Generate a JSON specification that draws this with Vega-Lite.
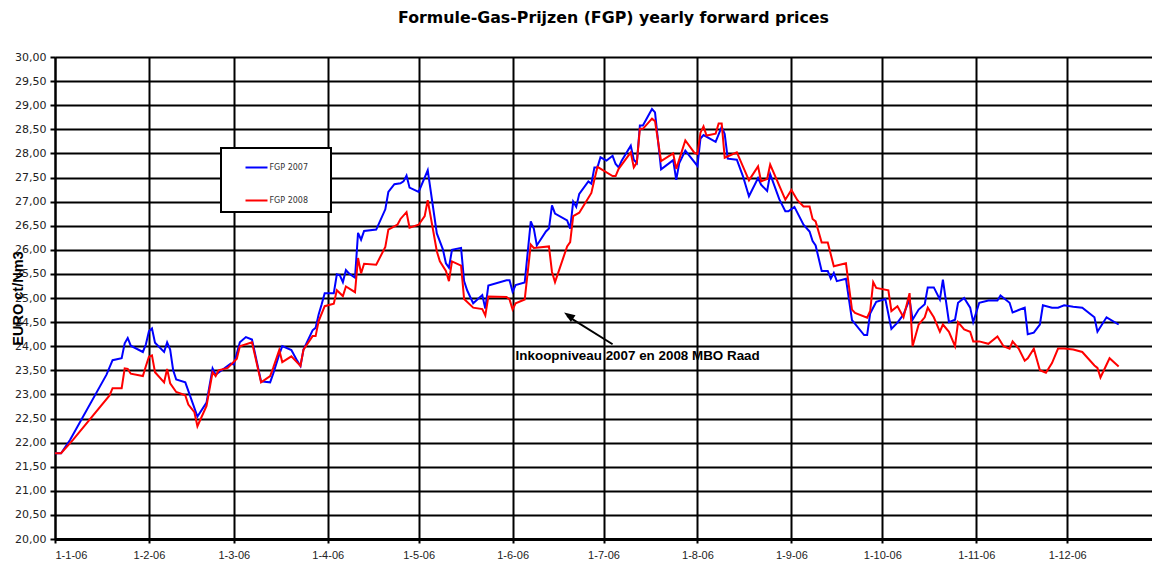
{
  "$schema": "https://vega.github.io/schema/vega-lite/v6.json",
  "width": 1097,
  "height": 482,
  "autosize": {"type": "none"},
  "padding": {"left": 55, "top": 57, "right": 0, "bottom": 23},
  "background": "white",
  "title": {"text": "Formule-Gas-Prijzen (FGP) yearly forward prices", "font": "DejaVu Sans", "fontSize": 15.8, "fontWeight": "bold", "color": "black", "anchor": "middle", "offset": 24, "dx": 10},
  "config": {
    "view": {"stroke": null},
    "axis": {"gridColor": "black", "gridWidth": 2, "gridOpacity": 1, "domainColor": "black", "tickColor": "black", "labelColor": "#222"}
  },
  "layer": [
    {
      "data": {"values": [
        {"d":"2006-01-01","s":"FGP 2007","v":21.78},{"d":"2006-01-03","s":"FGP 2007","v":21.78},{"d":"2006-01-06","s":"FGP 2007","v":22.06},{"d":"2006-01-18","s":"FGP 2007","v":23.41},{"d":"2006-01-20","s":"FGP 2007","v":23.71},{"d":"2006-01-23","s":"FGP 2007","v":23.75},{"d":"2006-01-24","s":"FGP 2007","v":24.06},{"d":"2006-01-25","s":"FGP 2007","v":24.17},{"d":"2006-01-26","s":"FGP 2007","v":24.01},{"d":"2006-01-30","s":"FGP 2007","v":23.88},{"d":"2006-01-31","s":"FGP 2007","v":24.04},
        {"d":"2006-02-01","s":"FGP 2007","v":24.31},{"d":"2006-02-02","s":"FGP 2007","v":24.37},{"d":"2006-02-03","s":"FGP 2007","v":24.07},{"d":"2006-02-06","s":"FGP 2007","v":23.88},{"d":"2006-02-07","s":"FGP 2007","v":24.08},{"d":"2006-02-08","s":"FGP 2007","v":23.93},{"d":"2006-02-09","s":"FGP 2007","v":23.50},{"d":"2006-02-10","s":"FGP 2007","v":23.31},{"d":"2006-02-13","s":"FGP 2007","v":23.25},{"d":"2006-02-17","s":"FGP 2007","v":22.54},{"d":"2006-02-20","s":"FGP 2007","v":22.83},{"d":"2006-02-22","s":"FGP 2007","v":23.54},{"d":"2006-02-23","s":"FGP 2007","v":23.41},{"d":"2006-02-25","s":"FGP 2007","v":23.50},{"d":"2006-02-28","s":"FGP 2007","v":23.64},
        {"d":"2006-03-01","s":"FGP 2007","v":23.62},{"d":"2006-03-03","s":"FGP 2007","v":24.08},{"d":"2006-03-05","s":"FGP 2007","v":24.19},{"d":"2006-03-07","s":"FGP 2007","v":24.14},{"d":"2006-03-10","s":"FGP 2007","v":23.27},{"d":"2006-03-13","s":"FGP 2007","v":23.25},{"d":"2006-03-14","s":"FGP 2007","v":23.43},{"d":"2006-03-16","s":"FGP 2007","v":23.83},{"d":"2006-03-17","s":"FGP 2007","v":24.00},{"d":"2006-03-20","s":"FGP 2007","v":23.92},{"d":"2006-03-22","s":"FGP 2007","v":23.69},{"d":"2006-03-23","s":"FGP 2007","v":23.59},{"d":"2006-03-24","s":"FGP 2007","v":23.93},{"d":"2006-03-27","s":"FGP 2007","v":24.33},{"d":"2006-03-28","s":"FGP 2007","v":24.38},{"d":"2006-03-29","s":"FGP 2007","v":24.66},{"d":"2006-03-30","s":"FGP 2007","v":24.87},{"d":"2006-03-31","s":"FGP 2007","v":25.10},
        {"d":"2006-04-03","s":"FGP 2007","v":25.10},{"d":"2006-04-04","s":"FGP 2007","v":25.49},{"d":"2006-04-05","s":"FGP 2007","v":25.47},{"d":"2006-04-06","s":"FGP 2007","v":25.33},{"d":"2006-04-07","s":"FGP 2007","v":25.58},{"d":"2006-04-08","s":"FGP 2007","v":25.51},{"d":"2006-04-10","s":"FGP 2007","v":25.42},{"d":"2006-04-11","s":"FGP 2007","v":26.35},{"d":"2006-04-12","s":"FGP 2007","v":26.21},{"d":"2006-04-13","s":"FGP 2007","v":26.39},{"d":"2006-04-17","s":"FGP 2007","v":26.42},{"d":"2006-04-20","s":"FGP 2007","v":26.84},{"d":"2006-04-21","s":"FGP 2007","v":27.20},{"d":"2006-04-23","s":"FGP 2007","v":27.36},{"d":"2006-04-25","s":"FGP 2007","v":27.38},{"d":"2006-04-26","s":"FGP 2007","v":27.42},{"d":"2006-04-27","s":"FGP 2007","v":27.54},{"d":"2006-04-28","s":"FGP 2007","v":27.29},
        {"d":"2006-05-01","s":"FGP 2007","v":27.20},{"d":"2006-05-04","s":"FGP 2007","v":27.65},{"d":"2006-05-07","s":"FGP 2007","v":26.34},{"d":"2006-05-09","s":"FGP 2007","v":26.01},{"d":"2006-05-10","s":"FGP 2007","v":25.72},{"d":"2006-05-11","s":"FGP 2007","v":25.63},{"d":"2006-05-12","s":"FGP 2007","v":26.00},{"d":"2006-05-15","s":"FGP 2007","v":26.04},{"d":"2006-05-16","s":"FGP 2007","v":25.35},{"d":"2006-05-17","s":"FGP 2007","v":25.16},{"d":"2006-05-19","s":"FGP 2007","v":24.89},{"d":"2006-05-22","s":"FGP 2007","v":25.06},{"d":"2006-05-23","s":"FGP 2007","v":24.78},{"d":"2006-05-24","s":"FGP 2007","v":25.26},{"d":"2006-05-30","s":"FGP 2007","v":25.37},{"d":"2006-05-31","s":"FGP 2007","v":25.37},
        {"d":"2006-06-01","s":"FGP 2007","v":25.13},{"d":"2006-06-02","s":"FGP 2007","v":25.27},{"d":"2006-06-05","s":"FGP 2007","v":25.32},{"d":"2006-06-07","s":"FGP 2007","v":26.59},{"d":"2006-06-08","s":"FGP 2007","v":26.44},{"d":"2006-06-09","s":"FGP 2007","v":26.09},{"d":"2006-06-12","s":"FGP 2007","v":26.38},{"d":"2006-06-13","s":"FGP 2007","v":26.44},{"d":"2006-06-14","s":"FGP 2007","v":26.92},{"d":"2006-06-15","s":"FGP 2007","v":26.75},{"d":"2006-06-19","s":"FGP 2007","v":26.61},{"d":"2006-06-20","s":"FGP 2007","v":26.44},{"d":"2006-06-21","s":"FGP 2007","v":27.00},{"d":"2006-06-22","s":"FGP 2007","v":26.89},{"d":"2006-06-23","s":"FGP 2007","v":27.16},{"d":"2006-06-26","s":"FGP 2007","v":27.42},{"d":"2006-06-27","s":"FGP 2007","v":27.37},{"d":"2006-06-28","s":"FGP 2007","v":27.71},{"d":"2006-06-29","s":"FGP 2007","v":27.71},{"d":"2006-06-30","s":"FGP 2007","v":27.92},
        {"d":"2006-07-02","s":"FGP 2007","v":27.85},{"d":"2006-07-04","s":"FGP 2007","v":27.95},{"d":"2006-07-05","s":"FGP 2007","v":27.78},{"d":"2006-07-06","s":"FGP 2007","v":27.71},{"d":"2006-07-07","s":"FGP 2007","v":27.85},{"d":"2006-07-10","s":"FGP 2007","v":28.16},{"d":"2006-07-11","s":"FGP 2007","v":27.87},{"d":"2006-07-12","s":"FGP 2007","v":27.80},{"d":"2006-07-13","s":"FGP 2007","v":28.58},{"d":"2006-07-14","s":"FGP 2007","v":28.58},{"d":"2006-07-17","s":"FGP 2007","v":28.92},{"d":"2006-07-18","s":"FGP 2007","v":28.85},{"d":"2006-07-20","s":"FGP 2007","v":27.67},{"d":"2006-07-24","s":"FGP 2007","v":27.86},{"d":"2006-07-25","s":"FGP 2007","v":27.45},{"d":"2006-07-26","s":"FGP 2007","v":27.80},{"d":"2006-07-28","s":"FGP 2007","v":28.06},
        {"d":"2006-08-01","s":"FGP 2007","v":27.74},{"d":"2006-08-02","s":"FGP 2007","v":28.31},{"d":"2006-08-03","s":"FGP 2007","v":28.38},{"d":"2006-08-07","s":"FGP 2007","v":28.24},{"d":"2006-08-09","s":"FGP 2007","v":28.55},{"d":"2006-08-10","s":"FGP 2007","v":28.40},{"d":"2006-08-11","s":"FGP 2007","v":27.89},{"d":"2006-08-14","s":"FGP 2007","v":27.87},{"d":"2006-08-16","s":"FGP 2007","v":27.53},{"d":"2006-08-18","s":"FGP 2007","v":27.11},{"d":"2006-08-21","s":"FGP 2007","v":27.49},{"d":"2006-08-22","s":"FGP 2007","v":27.35},{"d":"2006-08-24","s":"FGP 2007","v":27.22},{"d":"2006-08-25","s":"FGP 2007","v":27.57},{"d":"2006-08-28","s":"FGP 2007","v":27.05},{"d":"2006-08-30","s":"FGP 2007","v":26.80},{"d":"2006-08-31","s":"FGP 2007","v":26.80},
        {"d":"2006-09-02","s":"FGP 2007","v":26.89},{"d":"2006-09-05","s":"FGP 2007","v":26.52},{"d":"2006-09-07","s":"FGP 2007","v":26.38},{"d":"2006-09-08","s":"FGP 2007","v":26.18},{"d":"2006-09-09","s":"FGP 2007","v":26.09},{"d":"2006-09-11","s":"FGP 2007","v":25.56},{"d":"2006-09-13","s":"FGP 2007","v":25.56},{"d":"2006-09-14","s":"FGP 2007","v":25.40},{"d":"2006-09-15","s":"FGP 2007","v":25.52},{"d":"2006-09-16","s":"FGP 2007","v":25.35},{"d":"2006-09-19","s":"FGP 2007","v":25.40},{"d":"2006-09-21","s":"FGP 2007","v":24.54},{"d":"2006-09-25","s":"FGP 2007","v":24.23},{"d":"2006-09-26","s":"FGP 2007","v":24.23},{"d":"2006-09-27","s":"FGP 2007","v":24.68},{"d":"2006-09-29","s":"FGP 2007","v":24.92},
        {"d":"2006-10-02","s":"FGP 2007","v":24.98},{"d":"2006-10-04","s":"FGP 2007","v":24.36},{"d":"2006-10-06","s":"FGP 2007","v":24.49},{"d":"2006-10-08","s":"FGP 2007","v":24.66},{"d":"2006-10-10","s":"FGP 2007","v":24.97},{"d":"2006-10-11","s":"FGP 2007","v":24.55},{"d":"2006-10-13","s":"FGP 2007","v":24.76},{"d":"2006-10-15","s":"FGP 2007","v":24.87},{"d":"2006-10-16","s":"FGP 2007","v":25.22},{"d":"2006-10-18","s":"FGP 2007","v":25.22},{"d":"2006-10-20","s":"FGP 2007","v":24.97},{"d":"2006-10-21","s":"FGP 2007","v":25.38},{"d":"2006-10-23","s":"FGP 2007","v":24.50},{"d":"2006-10-25","s":"FGP 2007","v":24.55},{"d":"2006-10-26","s":"FGP 2007","v":24.90},{"d":"2006-10-28","s":"FGP 2007","v":25.00},{"d":"2006-10-30","s":"FGP 2007","v":24.80},{"d":"2006-10-31","s":"FGP 2007","v":24.50},
        {"d":"2006-11-02","s":"FGP 2007","v":24.90},{"d":"2006-11-05","s":"FGP 2007","v":24.95},{"d":"2006-11-08","s":"FGP 2007","v":24.95},{"d":"2006-11-09","s":"FGP 2007","v":25.05},{"d":"2006-11-12","s":"FGP 2007","v":24.90},{"d":"2006-11-13","s":"FGP 2007","v":24.70},{"d":"2006-11-15","s":"FGP 2007","v":24.75},{"d":"2006-11-17","s":"FGP 2007","v":24.80},{"d":"2006-11-18","s":"FGP 2007","v":24.25},{"d":"2006-11-20","s":"FGP 2007","v":24.28},{"d":"2006-11-22","s":"FGP 2007","v":24.45},{"d":"2006-11-23","s":"FGP 2007","v":24.85},{"d":"2006-11-26","s":"FGP 2007","v":24.80},{"d":"2006-11-28","s":"FGP 2007","v":24.80},{"d":"2006-11-30","s":"FGP 2007","v":24.85},
        {"d":"2006-12-03","s":"FGP 2007","v":24.82},{"d":"2006-12-06","s":"FGP 2007","v":24.80},{"d":"2006-12-10","s":"FGP 2007","v":24.60},{"d":"2006-12-11","s":"FGP 2007","v":24.30},{"d":"2006-12-14","s":"FGP 2007","v":24.60},{"d":"2006-12-18","s":"FGP 2007","v":24.45},

        {"d":"2006-01-01","s":"FGP 2008","v":21.78},{"d":"2006-01-03","s":"FGP 2008","v":21.78},{"d":"2006-01-07","s":"FGP 2008","v":22.06},{"d":"2006-01-19","s":"FGP 2008","v":22.98},{"d":"2006-01-20","s":"FGP 2008","v":23.13},{"d":"2006-01-23","s":"FGP 2008","v":23.13},{"d":"2006-01-24","s":"FGP 2008","v":23.54},{"d":"2006-01-25","s":"FGP 2008","v":23.53},{"d":"2006-01-26","s":"FGP 2008","v":23.43},{"d":"2006-01-30","s":"FGP 2008","v":23.38},{"d":"2006-01-31","s":"FGP 2008","v":23.59},
        {"d":"2006-02-01","s":"FGP 2008","v":23.78},{"d":"2006-02-02","s":"FGP 2008","v":23.81},{"d":"2006-02-03","s":"FGP 2008","v":23.46},{"d":"2006-02-06","s":"FGP 2008","v":23.25},{"d":"2006-02-07","s":"FGP 2008","v":23.53},{"d":"2006-02-08","s":"FGP 2008","v":23.23},{"d":"2006-02-10","s":"FGP 2008","v":23.05},{"d":"2006-02-13","s":"FGP 2008","v":22.98},{"d":"2006-02-14","s":"FGP 2008","v":22.79},{"d":"2006-02-16","s":"FGP 2008","v":22.63},{"d":"2006-02-17","s":"FGP 2008","v":22.34},{"d":"2006-02-20","s":"FGP 2008","v":22.76},{"d":"2006-02-22","s":"FGP 2008","v":23.46},{"d":"2006-02-23","s":"FGP 2008","v":23.38},{"d":"2006-02-24","s":"FGP 2008","v":23.50},{"d":"2006-02-27","s":"FGP 2008","v":23.55},
        {"d":"2006-03-02","s":"FGP 2008","v":23.74},{"d":"2006-03-03","s":"FGP 2008","v":24.00},{"d":"2006-03-07","s":"FGP 2008","v":24.08},{"d":"2006-03-10","s":"FGP 2008","v":23.25},{"d":"2006-03-13","s":"FGP 2008","v":23.38},{"d":"2006-03-14","s":"FGP 2008","v":23.55},{"d":"2006-03-16","s":"FGP 2008","v":23.92},{"d":"2006-03-17","s":"FGP 2008","v":23.67},{"d":"2006-03-20","s":"FGP 2008","v":23.79},{"d":"2006-03-23","s":"FGP 2008","v":23.59},{"d":"2006-03-24","s":"FGP 2008","v":23.93},{"d":"2006-03-27","s":"FGP 2008","v":24.21},{"d":"2006-03-28","s":"FGP 2008","v":24.21},{"d":"2006-03-29","s":"FGP 2008","v":24.52},{"d":"2006-03-31","s":"FGP 2008","v":24.83},
        {"d":"2006-04-03","s":"FGP 2008","v":24.88},{"d":"2006-04-04","s":"FGP 2008","v":25.16},{"d":"2006-04-06","s":"FGP 2008","v":25.04},{"d":"2006-04-07","s":"FGP 2008","v":25.24},{"d":"2006-04-10","s":"FGP 2008","v":25.12},{"d":"2006-04-11","s":"FGP 2008","v":25.83},{"d":"2006-04-12","s":"FGP 2008","v":25.51},{"d":"2006-04-13","s":"FGP 2008","v":25.71},{"d":"2006-04-17","s":"FGP 2008","v":25.69},{"d":"2006-04-20","s":"FGP 2008","v":26.06},{"d":"2006-04-21","s":"FGP 2008","v":26.42},{"d":"2006-04-24","s":"FGP 2008","v":26.52},{"d":"2006-04-25","s":"FGP 2008","v":26.64},{"d":"2006-04-27","s":"FGP 2008","v":26.78},{"d":"2006-04-28","s":"FGP 2008","v":26.46},
        {"d":"2006-05-01","s":"FGP 2008","v":26.52},{"d":"2006-05-03","s":"FGP 2008","v":26.70},{"d":"2006-05-04","s":"FGP 2008","v":27.03},{"d":"2006-05-07","s":"FGP 2008","v":25.97},{"d":"2006-05-08","s":"FGP 2008","v":25.76},{"d":"2006-05-10","s":"FGP 2008","v":25.56},{"d":"2006-05-11","s":"FGP 2008","v":25.35},{"d":"2006-05-12","s":"FGP 2008","v":25.76},{"d":"2006-05-15","s":"FGP 2008","v":25.67},{"d":"2006-05-16","s":"FGP 2008","v":24.98},{"d":"2006-05-19","s":"FGP 2008","v":24.80},{"d":"2006-05-22","s":"FGP 2008","v":24.77},{"d":"2006-05-23","s":"FGP 2008","v":24.64},{"d":"2006-05-24","s":"FGP 2008","v":25.03},{"d":"2006-05-30","s":"FGP 2008","v":25.02},{"d":"2006-05-31","s":"FGP 2008","v":24.97},
        {"d":"2006-06-01","s":"FGP 2008","v":24.76},{"d":"2006-06-02","s":"FGP 2008","v":24.89},{"d":"2006-06-05","s":"FGP 2008","v":24.97},{"d":"2006-06-07","s":"FGP 2008","v":26.11},{"d":"2006-06-08","s":"FGP 2008","v":26.04},{"d":"2006-06-13","s":"FGP 2008","v":26.07},{"d":"2006-06-14","s":"FGP 2008","v":25.54},{"d":"2006-06-15","s":"FGP 2008","v":25.33},{"d":"2006-06-19","s":"FGP 2008","v":26.07},{"d":"2006-06-20","s":"FGP 2008","v":26.16},{"d":"2006-06-21","s":"FGP 2008","v":26.70},{"d":"2006-06-23","s":"FGP 2008","v":26.77},{"d":"2006-06-27","s":"FGP 2008","v":27.18},{"d":"2006-06-28","s":"FGP 2008","v":27.46},{"d":"2006-06-29","s":"FGP 2008","v":27.72},
        {"d":"2006-07-04","s":"FGP 2008","v":27.53},{"d":"2006-07-05","s":"FGP 2008","v":27.53},{"d":"2006-07-06","s":"FGP 2008","v":27.68},{"d":"2006-07-10","s":"FGP 2008","v":28.02},{"d":"2006-07-11","s":"FGP 2008","v":27.71},{"d":"2006-07-12","s":"FGP 2008","v":27.81},{"d":"2006-07-13","s":"FGP 2008","v":28.51},{"d":"2006-07-14","s":"FGP 2008","v":28.51},{"d":"2006-07-17","s":"FGP 2008","v":28.72},{"d":"2006-07-18","s":"FGP 2008","v":28.67},{"d":"2006-07-20","s":"FGP 2008","v":27.84},{"d":"2006-07-24","s":"FGP 2008","v":28.00},{"d":"2006-07-25","s":"FGP 2008","v":27.68},{"d":"2006-07-28","s":"FGP 2008","v":28.27},{"d":"2006-07-31","s":"FGP 2008","v":28.01},
        {"d":"2006-08-01","s":"FGP 2008","v":27.99},{"d":"2006-08-02","s":"FGP 2008","v":28.43},{"d":"2006-08-03","s":"FGP 2008","v":28.56},{"d":"2006-08-04","s":"FGP 2008","v":28.37},{"d":"2006-08-07","s":"FGP 2008","v":28.41},{"d":"2006-08-08","s":"FGP 2008","v":28.62},{"d":"2006-08-09","s":"FGP 2008","v":28.62},{"d":"2006-08-10","s":"FGP 2008","v":27.91},{"d":"2006-08-14","s":"FGP 2008","v":28.02},{"d":"2006-08-16","s":"FGP 2008","v":27.73},{"d":"2006-08-18","s":"FGP 2008","v":27.44},{"d":"2006-08-21","s":"FGP 2008","v":27.73},{"d":"2006-08-22","s":"FGP 2008","v":27.42},{"d":"2006-08-24","s":"FGP 2008","v":27.47},{"d":"2006-08-25","s":"FGP 2008","v":27.77},{"d":"2006-08-30","s":"FGP 2008","v":27.04},
        {"d":"2006-09-01","s":"FGP 2008","v":27.24},{"d":"2006-09-03","s":"FGP 2008","v":27.03},{"d":"2006-09-05","s":"FGP 2008","v":26.90},{"d":"2006-09-07","s":"FGP 2008","v":26.90},{"d":"2006-09-08","s":"FGP 2008","v":26.64},{"d":"2006-09-09","s":"FGP 2008","v":26.59},{"d":"2006-09-11","s":"FGP 2008","v":26.15},{"d":"2006-09-13","s":"FGP 2008","v":26.15},{"d":"2006-09-15","s":"FGP 2008","v":25.66},{"d":"2006-09-19","s":"FGP 2008","v":25.72},{"d":"2006-09-21","s":"FGP 2008","v":24.76},{"d":"2006-09-22","s":"FGP 2008","v":24.69},{"d":"2006-09-26","s":"FGP 2008","v":24.59},{"d":"2006-09-27","s":"FGP 2008","v":24.73},{"d":"2006-09-28","s":"FGP 2008","v":25.33},{"d":"2006-09-29","s":"FGP 2008","v":25.21},
        {"d":"2006-10-03","s":"FGP 2008","v":25.16},{"d":"2006-10-04","s":"FGP 2008","v":24.73},{"d":"2006-10-06","s":"FGP 2008","v":24.83},{"d":"2006-10-08","s":"FGP 2008","v":24.60},{"d":"2006-10-10","s":"FGP 2008","v":25.10},{"d":"2006-10-11","s":"FGP 2008","v":24.00},{"d":"2006-10-13","s":"FGP 2008","v":24.45},{"d":"2006-10-15","s":"FGP 2008","v":24.60},{"d":"2006-10-16","s":"FGP 2008","v":24.80},{"d":"2006-10-18","s":"FGP 2008","v":24.60},{"d":"2006-10-20","s":"FGP 2008","v":24.30},{"d":"2006-10-21","s":"FGP 2008","v":24.45},{"d":"2006-10-23","s":"FGP 2008","v":24.30},{"d":"2006-10-25","s":"FGP 2008","v":24.00},{"d":"2006-10-26","s":"FGP 2008","v":24.50},{"d":"2006-10-28","s":"FGP 2008","v":24.35},{"d":"2006-10-30","s":"FGP 2008","v":24.30},{"d":"2006-10-31","s":"FGP 2008","v":24.10},
        {"d":"2006-11-02","s":"FGP 2008","v":24.10},{"d":"2006-11-05","s":"FGP 2008","v":24.05},{"d":"2006-11-08","s":"FGP 2008","v":24.20},{"d":"2006-11-10","s":"FGP 2008","v":24.00},{"d":"2006-11-12","s":"FGP 2008","v":23.95},{"d":"2006-11-13","s":"FGP 2008","v":24.10},{"d":"2006-11-15","s":"FGP 2008","v":23.95},{"d":"2006-11-17","s":"FGP 2008","v":23.70},{"d":"2006-11-18","s":"FGP 2008","v":23.75},{"d":"2006-11-20","s":"FGP 2008","v":23.95},{"d":"2006-11-22","s":"FGP 2008","v":23.50},{"d":"2006-11-24","s":"FGP 2008","v":23.45},{"d":"2006-11-26","s":"FGP 2008","v":23.65},{"d":"2006-11-28","s":"FGP 2008","v":23.95},{"d":"2006-11-30","s":"FGP 2008","v":23.95},
        {"d":"2006-12-03","s":"FGP 2008","v":23.93},{"d":"2006-12-06","s":"FGP 2008","v":23.88},{"d":"2006-12-10","s":"FGP 2008","v":23.60},{"d":"2006-12-11","s":"FGP 2008","v":23.55},{"d":"2006-12-12","s":"FGP 2008","v":23.35},{"d":"2006-12-15","s":"FGP 2008","v":23.75},{"d":"2006-12-18","s":"FGP 2008","v":23.58}
      ]},
      "mark": {"type": "line", "strokeWidth": 2, "clip": true},
      "encoding": {
        "x": {"field": "d", "type": "temporal",
          "scale": {"domain": ["2006-01-01", "2006-12-29"]},
          "axis": {"title": null, "values": ["2006-01-01","2006-02-01","2006-03-01","2006-04-01","2006-05-01","2006-06-01","2006-07-01","2006-08-01","2006-09-01","2006-10-01","2006-11-01","2006-12-01"], "tickCount": 40, "format": "%-d-%-m-%y", "labelFont": "Liberation Sans", "labelFontSize": 11, "tickSize": 4, "tickWidth": 2, "labelPadding": 6, "domainWidth": 3, "gridWidth": 2}},
        "y": {"field": "v", "type": "quantitative",
          "scale": {"domain": [20, 30], "nice": false, "zero": false},
          "axis": {"title": "EURO ct/Nm3", "titleFont": "Liberation Sans", "titleFontSize": 14.5, "titleFontWeight": "bold", "titleColor": "black", "titleX": -37, "titleY": 241, "titleAngle": -90, "titleBaseline": "middle", "titleAlign": "center", "values": [20,20.5,21,21.5,22,22.5,23,23.5,24,24.5,25,25.5,26,26.5,27,27.5,28,28.5,29,29.5,30], "tickCount": 40, "labelOverlap": false, "labelExpr": "replace(format(datum.value, '.2f'), '.', ',')", "labelFont": "DejaVu Sans", "labelFontSize": 11, "tickSize": 5, "tickWidth": 2, "labelPadding": 4, "domainWidth": 2, "gridWidth": 2}},
        "color": {"field": "s", "type": "nominal",
          "scale": {"domain": ["FGP 2007", "FGP 2008"], "range": ["#0000FF", "#FF0000"]},
          "legend": {"title": "x", "titleOrient": "right", "titleColor": "white", "titleFontSize": 8, "titlePadding": 10, "orient": "none", "legendX": 166, "legendY": 91, "symbolType": "stroke", "symbolSize": 484, "symbolStrokeWidth": 2, "labelFont": "DejaVu Sans", "labelFontSize": 8, "labelColor": "#333", "labelOffset": 1, "rowPadding": 17, "padding": 7.5, "symbolOffset": 16, "fillColor": "white", "strokeColor": "black",
            "encode": {"legend": {"update": {"strokeWidth": {"value": 2}}}}}}
      }
    },
    {
      "mark": {"type": "rule", "color": "#339966", "strokeWidth": 2},
      "encoding": {"y": {"datum": 24.70}}
    },
    {
      "data": {"values": [{"x1": "2006-07-04", "y1": 24.04, "x2": "2006-06-19", "y2": 24.63}]},
      "mark": {"type": "rule", "color": "black", "strokeWidth": 2},
      "encoding": {
        "x": {"field": "x1", "type": "temporal"},
        "y": {"field": "y1", "type": "quantitative"},
        "x2": {"field": "x2"},
        "y2": {"field": "y2"}
      }
    },
    {
      "data": {"values": [{"x": "2006-06-18", "y": 24.70}]},
      "mark": {"type": "point", "shape": "M0,0L-0.75,2L0.75,2Z", "filled": true, "color": "black", "opacity": 1, "size": 121, "angle": -56},
      "encoding": {
        "x": {"field": "x", "type": "temporal"},
        "y": {"field": "y", "type": "quantitative"}
      }
    },
    {
      "data": {"values": [{"x": "2006-06-02", "y": 23.79, "t": "Inkoopniveau 2007 en 2008 MBO Raad"}]},
      "mark": {"type": "text", "align": "left", "baseline": "middle", "font": "Liberation Sans", "fontWeight": "bold", "fontSize": 13.4, "color": "black"},
      "encoding": {
        "x": {"field": "x", "type": "temporal"},
        "y": {"field": "y", "type": "quantitative"},
        "text": {"field": "t"}
      }
    }
  ]
}
